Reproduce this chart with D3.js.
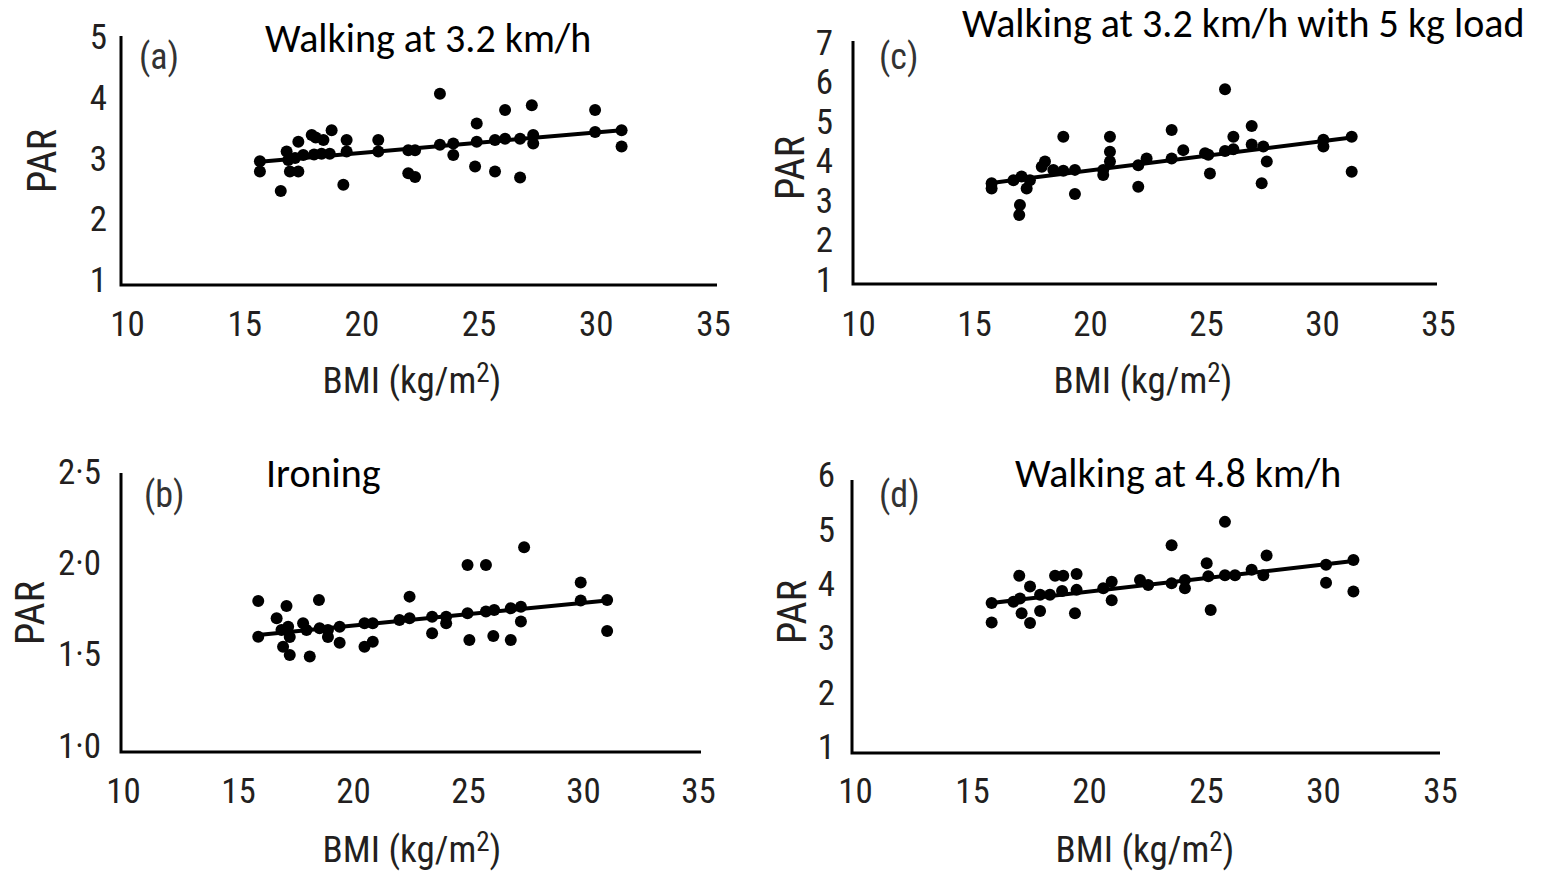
<!DOCTYPE html>
<html>
<head>
<meta charset="utf-8">
<script src="https://cdn.jsdelivr.net/npm/d3@7"></script>
<style>
  html, body { margin: 0; padding: 0; background: #ffffff; }
  svg { display: block; }
</style>
</head>
<body>
<svg id="chart" width="1547" height="871"></svg>
<script>
// ---------- DATA ----------
const xTickValues = [10, 15, 20, 25, 30, 35];
const xTickLabels = ["10", "15", "20", "25", "30", "35"];

// (a) Walking at 3.2 km/h
const yTicksA = [1, 2, 3, 4, 5];
const yTickLabelsA = ["1", "2", "3", "4", "5"];
const bmiA = [15.67, 15.67, 16.56, 16.81, 16.88, 16.95, 17.17, 17.31, 17.31, 17.52, 17.88, 17.98, 18.05, 18.38, 18.30, 18.73, 18.65, 19.23, 19.37, 19.37, 20.72, 20.72, 22.00, 22.00, 22.29, 22.29, 23.35, 23.35, 23.92, 23.92, 24.85, 24.92, 24.92, 25.70, 25.70, 26.13, 26.13, 26.77, 26.77, 27.27, 27.33, 27.33, 29.97, 29.97, 31.10, 31.10];
const parA = [2.94, 2.77, 2.45, 3.10, 2.96, 2.77, 2.99, 3.26, 2.77, 3.04, 3.37, 3.05, 3.33, 3.29, 3.06, 3.45, 3.06, 2.55, 3.29, 3.10, 3.29, 3.10, 3.12, 2.74, 2.68, 3.12, 4.05, 3.21, 3.23, 3.04, 2.85, 3.56, 3.26, 2.77, 3.29, 3.78, 3.31, 2.67, 3.31, 3.86, 3.37, 3.23, 3.78, 3.42, 3.45, 3.18];
const fitBmiA = [15.67, 31.1];
const fitParA = [2.93, 3.45];

// (b) Ironing
const yTicksB = [1.0, 1.5, 2.0, 2.5];
const yTickLabelsB = ["1·0", "1·5", "2·0", "2·5"];
const bmiB = [15.88, 15.88, 16.68, 17.11, 16.89, 16.96, 17.25, 17.25, 17.18, 17.83, 18.12, 18.52, 18.55, 17.98, 18.91, 18.91, 19.42, 19.42, 20.50, 20.50, 20.86, 20.86, 22.02, 22.46, 22.46, 23.44, 23.44, 24.05, 24.05, 24.98, 24.98, 25.06, 25.78, 25.78, 26.14, 26.10, 26.86, 26.86, 27.30, 27.30, 27.44, 29.90, 29.90, 31.05, 31.05];
const parB = [1.787, 1.591, 1.692, 1.760, 1.628, 1.536, 1.491, 1.590, 1.646, 1.665, 1.482, 1.793, 1.637, 1.628, 1.628, 1.590, 1.646, 1.558, 1.665, 1.536, 1.665, 1.563, 1.683, 1.692, 1.811, 1.701, 1.610, 1.701, 1.665, 1.985, 1.720, 1.573, 1.985, 1.730, 1.738, 1.595, 1.747, 1.573, 1.756, 1.674, 2.082, 1.888, 1.790, 1.793, 1.623];
const fitBmiB = [15.88, 31.05];
const fitParB = [1.60, 1.79];

// (c) Walking at 3.2 km/h with 5 kg load
const yTicksC = [1, 2, 3, 4, 5, 6, 7];
const yTickLabelsC = ["1", "2", "3", "4", "5", "6", "7"];
const bmiC = [15.76, 15.76, 16.70, 16.98, 16.95, 17.05, 17.27, 17.41, 17.92, 18.06, 18.42, 18.85, 18.85, 19.35, 19.35, 20.57, 20.57, 20.86, 20.86, 20.86, 22.08, 22.08, 22.44, 23.52, 23.52, 24.02, 24.96, 25.17, 25.10, 25.82, 25.82, 26.18, 26.18, 26.97, 26.97, 27.47, 27.62, 27.40, 30.06, 30.06, 31.28, 31.28];
const parC = [3.41, 3.28, 3.49, 2.86, 2.61, 3.58, 3.28, 3.49, 3.83, 3.96, 3.75, 4.59, 3.73, 3.75, 3.14, 3.75, 3.62, 4.59, 4.21, 3.96, 3.87, 3.32, 4.04, 4.76, 4.04, 4.25, 4.17, 3.66, 4.13, 5.79, 4.23, 4.59, 4.27, 4.86, 4.39, 4.34, 3.96, 3.41, 4.51, 4.34, 4.59, 3.70];
const fitBmiC = [15.76, 31.28];
const fitParC = [3.42, 4.57];

// (d) Walking at 4.8 km/h
const yTicksD = [1, 2, 3, 4, 5, 6];
const yTickLabelsD = ["1", "2", "3", "4", "5", "6"];
const bmiD = [15.84, 15.84, 16.77, 17.02, 17.05, 17.12, 17.48, 17.48, 17.91, 17.91, 18.33, 18.55, 18.90, 18.85, 19.40, 19.47, 19.47, 20.61, 20.97, 20.97, 22.18, 22.53, 23.53, 23.53, 24.10, 24.10, 25.03, 25.10, 25.20, 25.81, 25.81, 26.24, 26.95, 27.45, 27.59, 30.13, 30.13, 31.30, 31.30];
const parD = [3.63, 3.27, 3.65, 4.13, 3.71, 3.44, 3.93, 3.26, 3.48, 3.78, 3.78, 4.13, 4.13, 3.85, 3.44, 4.16, 3.87, 3.90, 4.02, 3.68, 4.05, 3.96, 4.69, 3.99, 4.05, 3.90, 4.36, 4.12, 3.50, 5.12, 4.14, 4.14, 4.24, 4.14, 4.50, 4.33, 4.00, 4.42, 3.84];
const fitBmiD = [15.84, 31.3];
const fitParD = [3.63, 4.40];

// ---------- LAYOUT ----------
const panels = [
  { letter: "(a)", title: "Walking at 3.2 km/h", bmi: bmiA, par: parA, fitX: fitBmiA, fitY: fitParA,
    yTicks: yTicksA, yLabels: yTickLabelsA,
    x0: 127, x1: 713, yDom: [1, 5], yR: [279, 36],
    axX: 121, axTop: 36, axBot: 285, axRight: 717, yLabX: 107, xLabY: 323,
    parX: 42, parY: 161, bmiX: 412, bmiY: 393,
    letterX: 139, letterY: 69, titleX: 265, titleY: 52 },
  { letter: "(c)", title: "Walking at 3.2 km/h with 5 kg load", bmi: bmiC, par: parC, fitX: fitBmiC, fitY: fitParC,
    yTicks: yTicksC, yLabels: yTickLabelsC,
    x0: 858, x1: 1438, yDom: [1, 7], yR: [278.5, 41.5],
    axX: 853, axTop: 41, axBot: 284, axRight: 1437, yLabX: 833, xLabY: 323,
    parX: 790, parY: 168, bmiX: 1143, bmiY: 393,
    letterX: 879, letterY: 69, titleX: 962, titleY: 37 },
  { letter: "(b)", title: "Ironing", bmi: bmiB, par: parB, fitX: fitBmiB, fitY: fitParB,
    yTicks: yTicksB, yLabels: yTickLabelsB,
    x0: 123, x1: 698, yDom: [1, 2.5], yR: [744.5, 471],
    axX: 121, axTop: 473, axBot: 752, axRight: 701, yLabX: 101, xLabY: 790,
    parX: 30, parY: 613, bmiX: 412, bmiY: 862,
    letterX: 144, letterY: 507, titleX: 266, titleY: 487 },
  { letter: "(d)", title: "Walking at 4.8 km/h", bmi: bmiD, par: parD, fitX: fitBmiD, fitY: fitParD,
    yTicks: yTicksD, yLabels: yTickLabelsD,
    x0: 855, x1: 1440, yDom: [1, 6], yR: [746, 474],
    axX: 852, axTop: 480, axBot: 753, axRight: 1440, yLabX: 835, xLabY: 790,
    parX: 792, parY: 612, bmiX: 1145, bmiY: 862,
    letterX: 879, letterY: 507, titleX: 1015, titleY: 487 }
];

const svg = d3.select("#chart");
const tickFont = "'Roboto Condensed', 'Liberation Sans Narrow', 'Arial Narrow', 'Liberation Sans', sans-serif";
const letterFont = "'Liberation Sans', Arial, sans-serif";
const titleFont = "Carlito, Calibri, Lato, 'Open Sans', sans-serif";
const ink = "#231f20";

panels.forEach(p => {
  const g = svg.append("g");
  const x = d3.scaleLinear().domain([10, 35]).range([p.x0, p.x1]);
  const y = d3.scaleLinear().domain(p.yDom).range(p.yR);

  // axis lines
  g.append("path")
    .attr("d", `M${p.axX},${p.axTop}V${p.axBot}H${p.axRight}`)
    .attr("fill", "none").attr("stroke", "#000").attr("stroke-width", 3);

  // y tick labels
  const yAxis = d3.axisLeft(y).tickValues(p.yTicks).tickSize(0).tickPadding(0)
    .tickFormat((d, i) => p.yLabels[i]);
  const ya = g.append("g").attr("transform", `translate(${p.yLabX},0)`).call(yAxis);
  ya.select(".domain").remove();
  ya.selectAll("text").attr("font-family", tickFont).attr("font-size", 35).attr("fill", ink)
    .attr("dy", "0.36em");

  // x tick labels
  const xAxis = d3.axisBottom(x).tickValues(xTickValues).tickSize(0).tickPadding(0)
    .tickFormat((d, i) => xTickLabels[i]);
  const xa = g.append("g").attr("transform", `translate(0,${p.xLabY})`).call(xAxis);
  xa.select(".domain").remove();
  xa.selectAll("text").attr("font-family", tickFont).attr("font-size", 35).attr("fill", ink)
    .attr("y", 0).attr("dy", "0.36em");

  // axis titles
  g.append("text").attr("transform", `translate(${p.parX},${p.parY}) rotate(-90)`)
    .attr("text-anchor", "middle").attr("dy", "0.36em")
    .attr("font-family", tickFont).attr("font-size", 40).attr("fill", ink).text("PAR");
  const bt = g.append("text").attr("x", p.bmiX).attr("y", p.bmiY).attr("text-anchor", "middle")
    .attr("font-family", tickFont).attr("font-size", 37).attr("fill", ink);
  bt.append("tspan").text("BMI (kg/m");
  bt.append("tspan").attr("font-size", 27).attr("dy", -11).text("2");
  bt.append("tspan").attr("dy", 11).text(")");

  // panel letter
  g.append("text").attr("x", p.letterX).attr("y", p.letterY)
    .attr("font-family", tickFont).attr("font-size", 36).attr("fill", "#333").text(p.letter);

  // title
  g.append("text").attr("x", p.titleX).attr("y", p.titleY)
    .attr("font-family", titleFont).attr("font-size", 40).attr("fill", "#000").text(p.title);

  // fit line
  const fitData = p.fitX.map((v, i) => [v, p.fitY[i]]);
  g.append("path").datum(fitData)
    .attr("d", d3.line().x(d => x(d[0])).y(d => y(d[1])))
    .attr("fill", "none").attr("stroke", "#000").attr("stroke-width", 4);

  // points
  const pts = p.bmi.map((v, i) => [v, p.par[i]]);
  g.selectAll("circle").data(pts).join("circle")
    .attr("cx", d => x(d[0])).attr("cy", d => y(d[1])).attr("r", 6).attr("fill", "#000");
});
</script>
</body>
</html>
